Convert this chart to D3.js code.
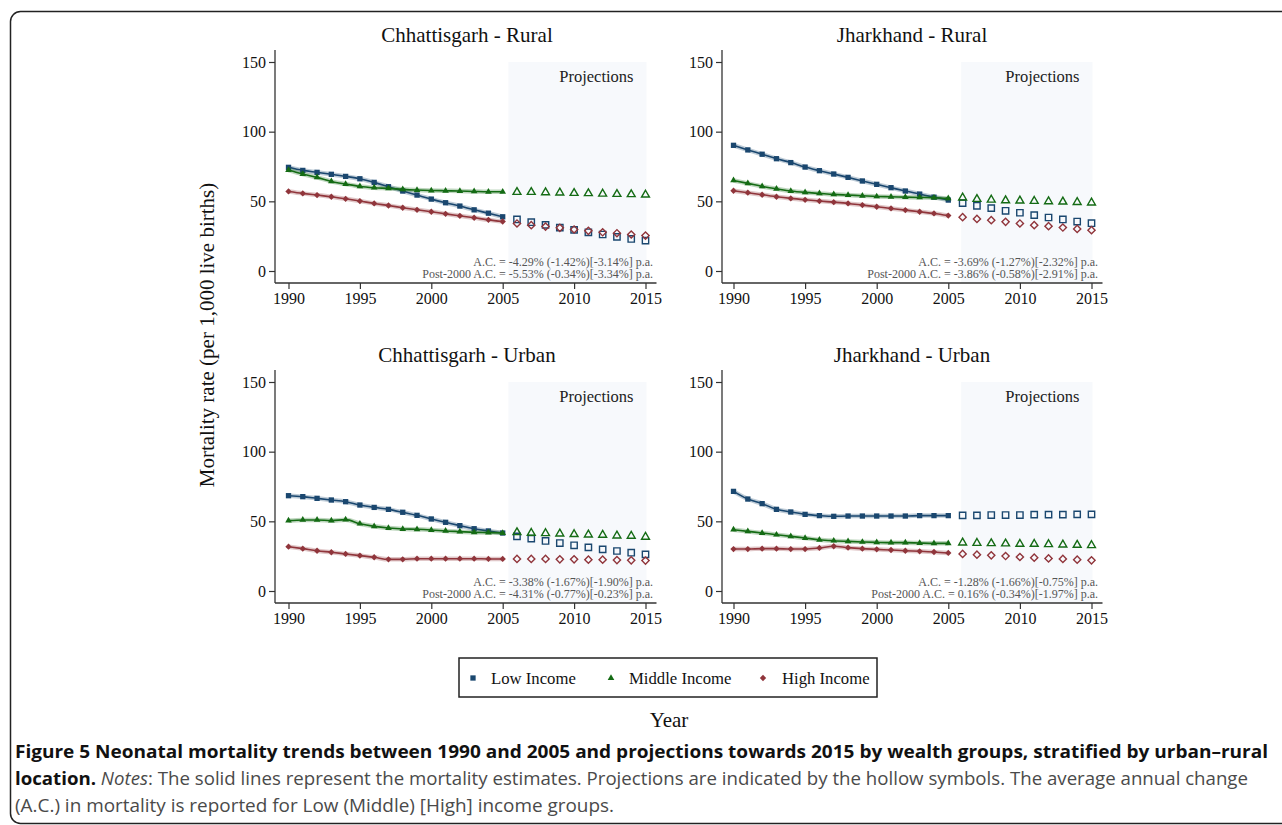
<!DOCTYPE html>
<html><head><meta charset="utf-8">
<script src="https://cdn.jsdelivr.net/npm/d3@7/dist/d3.min.js"></script>
<style>body{margin:0;background:#fff}</style>
</head><body><svg id="c" width="1282" height="825"></svg>
<script>
// ---------- DATA ----------
const years = [1990,1991,1992,1993,1994,1995,1996,1997,1998,1999,2000,2001,2002,2003,2004,2005,
               2006,2007,2008,2009,2010,2011,2012,2013,2014,2015];
const lastEstimateYear = 2005;
const panelTitles = ["Chhattisgarh - Rural", "Jharkhand - Rural", "Chhattisgarh - Urban", "Jharkhand - Urban"];
const seriesNames = ["Low Income", "Middle Income", "High Income"];
const yTicks = [0, 50, 100, 150];
const xTicks = [1990, 1995, 2000, 2005, 2010, 2015];
const shadeLabel = "Projections";

// Chhattisgarh - Rural
const chRuralLow  = [74.4,72.2,70.8,69.4,67.9,66.2,63.6,60.5,57.4,54.5,51.6,49.0,46.6,43.9,41.5,38.9, 37.0,35.0,33.1,31.2,29.5,27.8,26.2,24.5,23.0,21.8];
const chRuralMid  = [72.5,69.6,67.2,64.3,62.4,60.7,59.8,59.3,58.6,58.1,57.8,57.6,57.4,57.1,56.9,56.9, 56.6,56.6,56.4,56.2,55.9,55.7,55.4,55.2,55.0,54.7];
const chRuralHigh = [57.1,55.7,54.5,53.3,51.8,50.2,48.5,47.0,45.4,43.9,42.5,41.0,39.6,38.2,36.7,35.5, 34.1,32.9,31.9,31.0,29.8,28.8,27.8,27.1,26.2,25.4];
// Jharkhand - Rural
const jhRuralLow  = [90.2,86.9,83.8,80.6,77.8,74.6,72.0,69.6,67.2,64.6,62.2,59.8,57.4,55.2,53.0,50.9, 48.7,46.8,45.1,43.2,41.8,40.1,38.4,37.0,35.5,34.3];
const jhRuralMid  = [65.0,62.9,60.7,59.0,57.4,56.4,55.7,55.0,54.5,54.0,53.5,53.3,53.0,52.8,52.6,52.1, 52.6,51.6,51.1,50.6,50.4,50.2,49.9,49.7,49.4,49.0];
const jhRuralHigh = [57.6,56.2,54.7,53.3,52.1,51.1,50.2,49.4,48.5,47.3,46.1,44.9,43.7,42.5,41.3,39.8, 38.6,37.4,36.5,35.3,34.1,32.9,32.2,31.2,30.2,29.3];
// Chhattisgarh - Urban
const chUrbanLow  = [68.4,67.7,66.5,65.3,64.1,61.7,60.0,58.6,56.5,54.3,51.7,49.3,46.9,44.7,43.1,41.6, 39.2,37.6,35.9,34.4,32.8,31.3,29.9,28.7,27.5,26.3];
const chUrbanMid  = [50.5,51.0,51.0,50.5,51.2,48.3,46.4,45.2,44.5,44.3,43.8,43.1,42.6,42.1,41.9,41.6, 42.1,41.6,41.4,41.1,40.7,40.4,40.2,39.7,39.5,38.8];
const chUrbanHigh = [31.8,30.4,28.9,27.8,26.6,25.4,24.2,22.7,22.7,23.2,23.2,23.2,23.2,23.2,23.0,23.0, 23.0,23.0,23.0,22.7,22.7,22.5,22.5,22.2,22.0,21.8];
// Jharkhand - Urban
const jhUrbanLow  = [71.5,66.0,62.7,58.6,56.7,55.0,54.1,53.6,53.8,53.8,53.8,53.8,53.8,54.1,54.1,54.1, 54.3,54.3,54.5,54.5,54.5,54.8,54.8,54.8,55.0,55.0];
const jhUrbanMid  = [44.0,42.8,41.6,40.4,39.2,38.0,36.8,36.1,35.6,35.2,34.9,34.7,34.7,34.4,34.2,34.2, 34.7,34.4,34.2,34.0,33.7,33.7,33.5,33.2,33.0,32.8];
const jhUrbanHigh = [30.1,30.1,30.4,30.4,30.1,30.1,30.9,32.1,31.1,30.4,29.9,29.4,28.9,28.5,28.0,27.3, 26.6,26.1,25.6,25.1,24.4,23.9,23.4,23.0,22.5,22.0];

const acLine1 = ["A.C. = -4.29% (-1.42%)[-3.14%] p.a.", "A.C. = -3.69% (-1.27%)[-2.32%] p.a.",
                 "A.C. = -3.38% (-1.67%)[-1.90%] p.a.", "A.C. = -1.28% (-1.66%)[-0.75%] p.a."];
const acLine2 = ["Post-2000 A.C. = -5.53% (-0.34%)[-3.34%] p.a.", "Post-2000 A.C. = -3.86% (-0.58%)[-2.91%] p.a.",
                 "Post-2000 A.C. = -4.31% (-0.77%)[-0.23%] p.a.", "Post-2000 A.C. = 0.16% (-0.34%)[-1.97%] p.a."];

const panelSeries = [
  [chRuralLow, chRuralMid, chRuralHigh],
  [jhRuralLow, jhRuralMid, jhRuralHigh],
  [chUrbanLow, chUrbanMid, chUrbanHigh],
  [jhUrbanLow, jhUrbanMid, jhUrbanHigh]
];

const yAxisTitle = "Mortality rate (per 1,000 live births)";
const xAxisTitle = "Year";
const captionBold1 = "Figure 5 Neonatal mortality trends between 1990 and 2005 and projections towards 2015 by wealth groups, stratified by urban\u2013rural";
const captionBold2 = "location.";
const captionItalic2 = "Notes";
const captionRest2 = ": The solid lines represent the mortality estimates. Projections are indicated by the hollow symbols. The average annual change";
const captionLine3 = "(A.C.) in mortality is reported for Low (Middle) [High] income groups.";

// ---------- STYLE / LAYOUT ----------
const colors = ["#1a476f", "#146b14", "#90353b"];
const serif = "'Liberation Serif', 'Times New Roman', serif";
const cols = [
  {axisX: 275, x0: 288.5, x1: 645.5, shadeStart: 2005.4, titleX: 467, rightText: 653},
  {axisX: 722, x0: 733.5, x1: 1091.5, shadeStart: 2005.9, titleX: 912, rightText: 1098}
];
const rows = [
  {y0: 271, y150: 62, axisBottom: 283, axisTop: 50, titleY: 42},
  {y0: 591, y150: 382, axisBottom: 603, axisTop: 370, titleY: 362}
];

const svg = d3.select("#c");

// outer frame
svg.append("rect").attr("x", 10.5).attr("y", 11.5).attr("width", 1300).attr("height", 812)
  .attr("rx", 10).attr("fill", "none").attr("stroke", "#222").attr("stroke-width", 1.5);

function symbolPath(i, filled) {
  if (i === 0) return d3.symbol(d3.symbolSquare, filled ? 28 : 40)();
  if (i === 1) return d3.symbol(d3.symbolTriangle, filled ? 19 : 27)();
  return d3.symbol(d3.symbolSquare, filled ? 20 : 26)();
}
function symbolTransform(i, x, y) {
  return `translate(${x},${y})` + (i === 2 ? " rotate(45)" : "");
}

panelSeries.forEach((series, p) => {
  const c = cols[p % 2], r = rows[Math.floor(p / 2)];
  const x = d3.scaleLinear().domain([1990, 2015]).range([c.x0, c.x1]);
  const y = d3.scaleLinear().domain([0, 150]).range([r.y0, r.y150]);
  const g = svg.append("g");

  // projections shading
  g.append("rect")
    .attr("x", x(c.shadeStart)).attr("y", y(150))
    .attr("width", x(2015.07) - x(c.shadeStart)).attr("height", r.axisBottom - y(150))
    .attr("fill", "#f7f9fc");

  g.append("text").attr("x", x(2015) - 12).attr("y", y(150) + 20)
    .attr("text-anchor", "end").style("font-family", serif).style("font-size", "16.5px")
    .attr("fill", "#222").text(shadeLabel);

  // axes
  const yAxis = d3.axisLeft(y).tickValues(yTicks).tickSize(6).tickPadding(3);
  const yg = g.append("g").attr("transform", `translate(${c.axisX},0)`).call(yAxis);
  yg.select(".domain").remove();
  g.append("line").attr("x1", c.axisX).attr("x2", c.axisX).attr("y1", r.axisTop).attr("y2", r.axisBottom)
    .attr("stroke", "#333").attr("stroke-width", 1.3);

  const xAxis = d3.axisBottom(x).tickValues(xTicks).tickFormat(d3.format("d")).tickSize(6).tickPadding(4);
  const xg = g.append("g").attr("transform", `translate(0,${r.axisBottom})`).call(xAxis);
  xg.select(".domain").remove();
  g.append("line").attr("x1", c.axisX).attr("x2", x(2015) + 11).attr("y1", r.axisBottom).attr("y2", r.axisBottom)
    .attr("stroke", "#333").attr("stroke-width", 1.3);

  [yg, xg].forEach(a => {
    a.attr("font-family", serif).attr("font-size", 16);
    a.selectAll(".tick line").attr("stroke", "#333").attr("stroke-width", 1.2);
    a.selectAll(".tick text").style("font-family", serif).style("font-size", "16px").attr("fill", "#111");
  });

  // title
  svg.append("text").attr("x", c.titleX).attr("y", r.titleY).attr("text-anchor", "middle")
    .style("font-family", serif).style("font-size", "21px").attr("fill", "#111").text(panelTitles[p]);

  // series
  series.forEach((vals, i) => {
    const pts = years.map((yr, k) => ({yr, v: vals[k]}));
    const est = pts.filter(d => d.yr <= lastEstimateYear);
    const proj = pts.filter(d => d.yr > lastEstimateYear);
    const line = d3.line().x(d => x(d.yr)).y(d => y(d.v)).curve(d3.curveMonotoneX);
    g.append("path").attr("d", line(est)).attr("fill", "none").attr("stroke", colors[i])
      .attr("stroke-opacity", 0.28).attr("stroke-width", 4.5).attr("stroke-linejoin", "round");
    g.append("path").attr("d", line(est)).attr("fill", "none").attr("stroke", colors[i])
      .attr("stroke-width", 1.6).attr("stroke-linejoin", "round");
    g.selectAll(null).data(est).enter().append("path")
      .attr("d", symbolPath(i, true)).attr("transform", d => symbolTransform(i, x(d.yr), y(d.v)))
      .attr("fill", colors[i]);
    g.selectAll(null).data(proj).enter().append("path")
      .attr("d", symbolPath(i, false)).attr("transform", d => symbolTransform(i, x(d.yr), y(d.v)))
      .attr("fill", "none").attr("stroke", colors[i]).attr("stroke-width", 1.4);
  });

  // A.C. notes
  g.append("text").attr("x", c.rightText).attr("y", r.y0 - 5.5).attr("text-anchor", "end")
    .style("font-family", serif).style("font-size", "12px").attr("fill", "#555").text(acLine1[p]);
  g.append("text").attr("x", c.rightText).attr("y", r.y0 + 7).attr("text-anchor", "end")
    .style("font-family", serif).style("font-size", "12px").attr("fill", "#555").text(acLine2[p]);
});

// y axis title
svg.append("text").attr("transform", "translate(207,335) rotate(-90)")
  .attr("text-anchor", "middle").attr("dominant-baseline", "central")
  .style("font-family", serif).style("font-size", "21px").attr("fill", "#111").text(yAxisTitle);

// legend
svg.append("rect").attr("x", 459).attr("y", 658).attr("width", 418).attr("height", 39)
  .attr("fill", "#fff").attr("stroke", "#222").attr("stroke-width", 1.5);
const legendMarkX = [473, 611, 763];
const legendTextX = [491, 629, 782];
seriesNames.forEach((name, i) => {
  svg.append("path").attr("d", symbolPath(i, true))
    .attr("transform", symbolTransform(i, legendMarkX[i], 678)).attr("fill", colors[i]);
  svg.append("text").attr("x", legendTextX[i]).attr("y", 684).style("font-family", serif)
    .style("font-size", "16.7px").attr("fill", "#111").text(name);
});

// x axis title
svg.append("text").attr("x", 669).attr("y", 727).attr("text-anchor", "middle")
  .style("font-family", serif).style("font-size", "21px").attr("fill", "#111").text(xAxisTitle);

// caption
const sans = "'Liberation Sans Narrow', 'Open Sans', 'Noto Sans', sans-serif";
svg.append("text").attr("x", 15).attr("y", 758).style("font-family", sans).style("font-size", "18px")
  .attr("font-weight", "bold").attr("fill", "#111")
  .attr("textLength", 1253).attr("lengthAdjust", "spacingAndGlyphs").text(captionBold1);
const l2 = svg.append("text").attr("x", 15).attr("y", 785).style("font-family", sans).style("font-size", "18px")
  .attr("fill", "#4a4a4a").attr("textLength", 1233).attr("lengthAdjust", "spacingAndGlyphs");
l2.append("tspan").attr("font-weight", "bold").attr("fill", "#111").text(captionBold2 + " ");
l2.append("tspan").attr("font-style", "italic").text(captionItalic2);
l2.append("tspan").text(captionRest2);
svg.append("text").attr("x", 15).attr("y", 812).style("font-family", sans).style("font-size", "18px")
  .attr("fill", "#4a4a4a").attr("textLength", 599).attr("lengthAdjust", "spacingAndGlyphs").text(captionLine3);
</script>
</body></html>
